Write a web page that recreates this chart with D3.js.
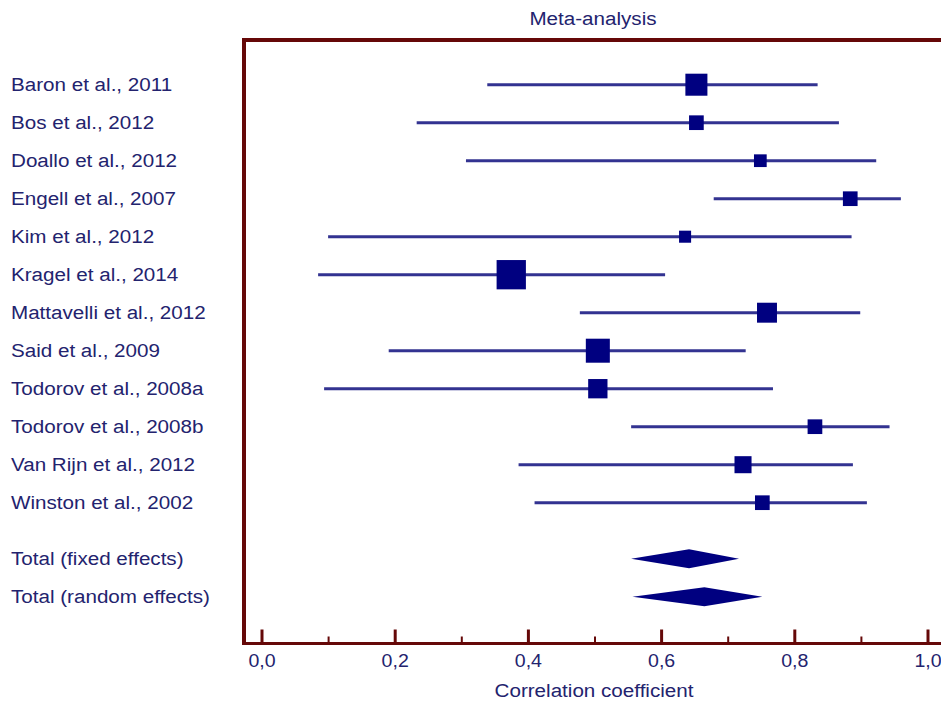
<!DOCTYPE html>
<html>
<head>
<meta charset="utf-8">
<script src="https://cdn.jsdelivr.net/npm/d3@7"></script>
<style>
  html, body { margin: 0; padding: 0; background: #ffffff; }
  svg { display: block; }
  text { font-family: "Liberation Sans", Arial, sans-serif; }
</style>
</head>
<body>
<svg id="chart" width="941" height="702"></svg>
<script>
// ---- data ----
const studies = ["Baron et al., 2011", "Bos et al., 2012", "Doallo et al., 2012", "Engell et al., 2007",
  "Kim et al., 2012", "Kragel et al., 2014", "Mattavelli et al., 2012", "Said et al., 2009",
  "Todorov et al., 2008a", "Todorov et al., 2008b", "Van Rijn et al., 2012", "Winston et al., 2002"];
const estimates = [0.653, 0.653, 0.749, 0.884, 0.636, 0.375, 0.759, 0.505, 0.505, 0.831, 0.723, 0.752];
const lowerCI   = [0.339, 0.233, 0.307, 0.679, 0.100, 0.085, 0.478, 0.191, 0.094, 0.555, 0.386, 0.410];
const upperCI   = [0.835, 0.867, 0.923, 0.960, 0.886, 0.606, 0.899, 0.727, 0.768, 0.943, 0.888, 0.909];
const weights   = [11.7, 5.2, 3.9, 5.2, 3.5, 20.7, 9.6, 13.9, 9.0, 5.2, 7.0, 5.2];

const totalLabels = ["Total (fixed effects)", "Total (random effects)"];
const totalEst    = [0.642, 0.665];
const totalLower  = [0.555, 0.557];
const totalUpper  = [0.717, 0.752];

const majorTicks = [0, 0.2, 0.4, 0.6, 0.8, 1.0];
const minorTicks = [0.1, 0.3, 0.5, 0.7, 0.9];
const title = "Meta-analysis";
const xTitle = "Correlation coefficient";

// ---- styles ----
const frameColor = "#650808";
const textColor = "#23236e";
const lineColor = "#333391";
const markColor = "#000080";
const stretch = 1.085;

const svg = d3.select("#chart");

const x = d3.scaleLinear().domain([0, 1]).range([261.5, 927.5]);
const yStudy = d3.scalePoint().domain(studies).range([84.7, 502.7]);
const yTotal = d3.scalePoint().domain(totalLabels).range([558.7, 596.7]);
const side = d3.scaleSqrt().domain([0, 100]).range([0, 64.4]);

const frameTop = 40, frameLeft = 244, axisY = 643.5;

function stretchedText(sel, px, py) {
  return sel.attr("transform", (d, i) => `translate(${typeof px === "function" ? px(d, i) : px},${typeof py === "function" ? py(d, i) : py}) scale(${stretch},1)`);
}

// title
stretchedText(svg.append("text"), 593, 18).attr("dy", "0.35em")
  .attr("text-anchor", "middle").attr("font-size", 19).attr("fill", textColor).text(title);

// frame
svg.append("path")
  .attr("d", `M946,${frameTop}H${frameLeft}V${axisY}`)
  .attr("fill", "none").attr("stroke", frameColor).attr("stroke-width", 4);
svg.append("line").attr("x1", frameLeft - 2).attr("x2", 946).attr("y1", axisY).attr("y2", axisY)
  .attr("stroke", frameColor).attr("stroke-width", 3);

// axes
const locale = d3.formatLocale({decimal: ",", thousands: ".", grouping: [3], currency: ["", ""]});
const fmt = locale.format(".1f");
const gMajor = svg.append("g").attr("transform", `translate(0,${axisY})`)
  .call(d3.axisBottom(x).tickValues(majorTicks).tickFormat(fmt).tickSize(-14).tickPadding(10));
gMajor.select(".domain").remove();
gMajor.selectAll(".tick line").attr("stroke", frameColor).attr("stroke-width", 3);
gMajor.selectAll(".tick text").attr("fill", textColor).attr("font-size", 19)
  .attr("font-family", "'Liberation Sans', Arial, sans-serif")
  .attr("transform", `scale(1.03,1)`);

const gMinor = svg.append("g").attr("transform", `translate(0,${axisY})`)
  .call(d3.axisBottom(x).tickValues(minorTicks).tickFormat("").tickSize(-7));
gMinor.select(".domain").remove();
gMinor.selectAll(".tick line").attr("stroke", frameColor).attr("stroke-width", 2);

stretchedText(svg.append("text"), 594, 690).attr("dy", "0.35em")
  .attr("text-anchor", "middle").attr("font-size", 19).attr("fill", textColor).text(xTitle);

// study labels
stretchedText(svg.selectAll(".slabel").data(studies).join("text").attr("class", "slabel"),
    11, d => yStudy(d))
  .attr("dy", "0.35em").attr("font-size", 19).attr("fill", textColor).text(d => d);
stretchedText(svg.selectAll(".tlabel").data(totalLabels).join("text").attr("class", "tlabel"),
    11, d => yTotal(d))
  .attr("dy", "0.35em").attr("font-size", 19).attr("fill", textColor).text(d => d);

// CI lines
svg.selectAll(".ci").data(studies).join("line")
  .attr("class", "ci")
  .attr("x1", (d, i) => x(lowerCI[i])).attr("x2", (d, i) => x(upperCI[i]))
  .attr("y1", d => yStudy(d)).attr("y2", d => yStudy(d))
  .attr("stroke", lineColor).attr("stroke-width", 3);

// markers
svg.selectAll(".mk").data(studies).join("rect")
  .attr("class", "mk")
  .attr("x", (d, i) => x(estimates[i]) - side(weights[i]) / 2)
  .attr("y", (d, i) => yStudy(d) - side(weights[i]) / 2)
  .attr("width", (d, i) => side(weights[i]))
  .attr("height", (d, i) => side(weights[i]))
  .attr("fill", markColor);

// diamonds
const halfH = 9.5;
svg.selectAll(".dm").data(totalLabels).join("path")
  .attr("class", "dm")
  .attr("d", (d, i) => {
    const yc = yTotal(d);
    return `M${x(totalLower[i])},${yc}L${x(totalEst[i])},${yc - halfH}L${x(totalUpper[i])},${yc}L${x(totalEst[i])},${yc + halfH}Z`;
  })
  .attr("fill", markColor);
</script>
</body>
</html>
